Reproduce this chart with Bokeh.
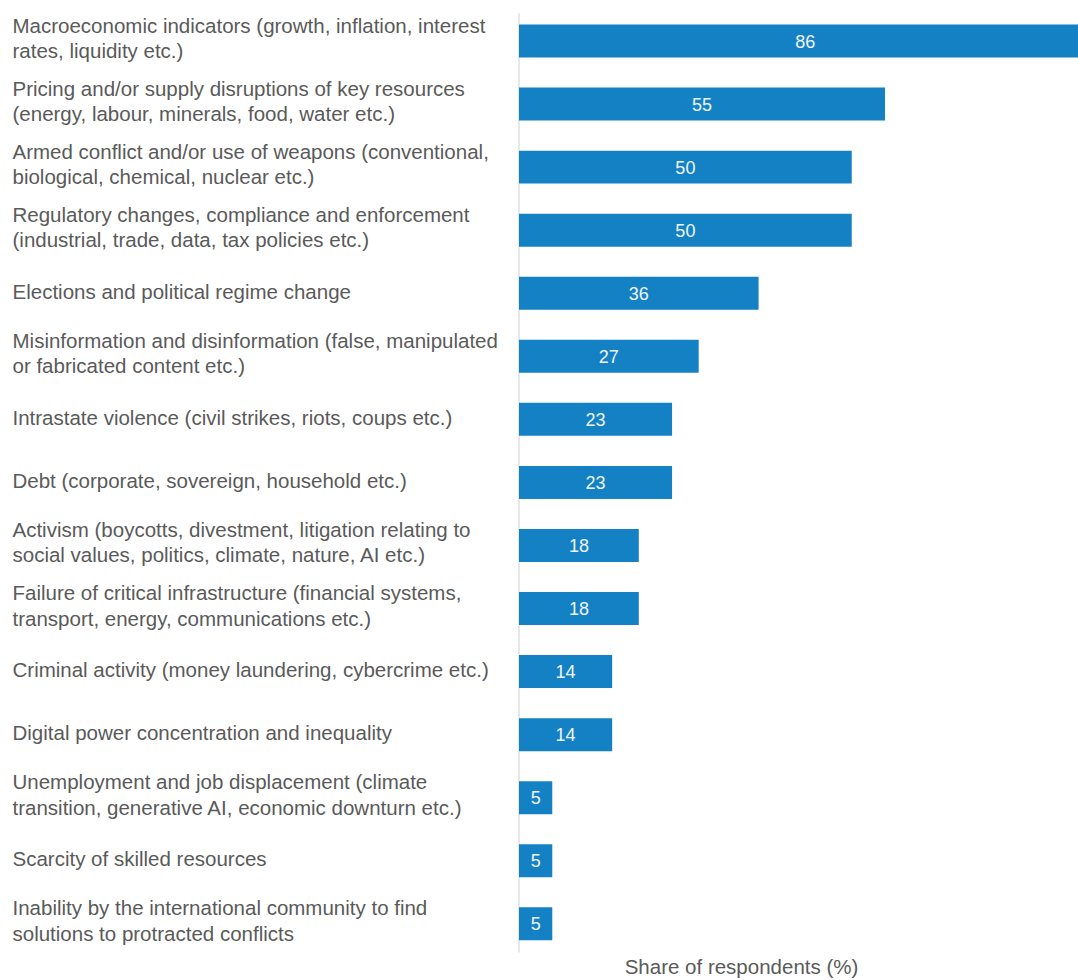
from bokeh.plotting import figure
from bokeh.models import Range1d, ColumnDataSource
from bokeh.core.properties import value
from bokeh.embed import file_html
from bokeh.resources import INLINE

# ---------------- data ----------------
label_line1 = [
    "Macroeconomic indicators (growth, inflation, interest",
    "Pricing and/or supply disruptions of key resources",
    "Armed conflict and/or use of weapons (conventional,",
    "Regulatory changes, compliance and enforcement",
    "Elections and political regime change",
    "Misinformation and disinformation (false, manipulated",
    "Intrastate violence (civil strikes, riots, coups etc.)",
    "Debt (corporate, sovereign, household etc.)",
    "Activism (boycotts, divestment, litigation relating to",
    "Failure of critical infrastructure (financial systems,",
    "Criminal activity (money laundering, cybercrime etc.)",
    "Digital power concentration and inequality",
    "Unemployment and job displacement (climate",
    "Scarcity of skilled resources",
    "Inability by the international community to find",
]
label_line2 = [
    "rates, liquidity etc.)",
    "(energy, labour, minerals, food, water etc.)",
    "biological, chemical, nuclear etc.)",
    "(industrial, trade, data, tax policies etc.)",
    "",
    "or fabricated content etc.)",
    "",
    "",
    "social values, politics, climate, nature, AI etc.)",
    "transport, energy, communications etc.)",
    "",
    "",
    "transition, generative AI, economic downturn etc.)",
    "",
    "solutions to protracted conflicts",
]
values = [86, 55, 50, 50, 36, 27, 23, 23, 18, 18, 14, 14, 5, 5, 5]
axis_title = "Share of respondents (%)"

# ---------------- layout constants ----------------
FIG_W, FIG_H = 1078, 980
PX_X = 6.655                 # px per value unit
ZERO_PX = 518.5              # px of value 0 from left
PX_Y = 63.06                 # px per row
ROW0_PX = 40.5               # px of first row centre from top
X_START = -ZERO_PX / PX_X
X_END = X_START + FIG_W / PX_X
Y_TOP = -ROW0_PX / PX_Y
Y_BOT = Y_TOP + FIG_H / PX_Y

def xd(px):
    return (px - ZERO_PX) / PX_X

def yd(px):
    return (px - ROW0_PX) / PX_Y

BAR_COLOR = "#1481c4"
TEXT_COLOR = "#5a5a5a"
FONT = "Liberation Sans"

idx = list(range(len(values)))

p = figure(
    width=FIG_W, height=FIG_H,
    x_range=Range1d(X_START, X_END),
    y_range=Range1d(Y_BOT, Y_TOP),
    output_backend="svg", toolbar_location=None,
    min_border_left=0, min_border_right=0,
    min_border_top=0, min_border_bottom=0,
)
p.axis.visible = False
p.grid.visible = False
p.outline_line_color = None
p.background_fill_color = "white"
p.border_fill_color = "white"

# vertical axis line at 0
p.segment(x0=[0], y0=[yd(13)], x1=[0], y1=[yd(952)], line_color="#d0d0d0", line_width=1)

# bars
bar_src = ColumnDataSource(dict(
    y=idx, v=values, mid=[v / 2 for v in values], t=[str(v) for v in values]
))
p.hbar(y="y", left=0, right="v", height=0.523, source=bar_src,
       fill_color=BAR_COLOR, line_color=None)
p.text(x="mid", y="y", text="t", source=bar_src,
       text_align="center", text_baseline="middle",
       text_color="#eef5fb", text_font_size="18px", text_font=value(FONT))

# category labels (left aligned)
ly, lt, lo = [], [], []
for i, (a, b) in enumerate(zip(label_line1, label_line2)):
    if b:
        ly += [i, i]
        lt += [a, b]
        lo += [-16, 9.5]
    else:
        ly.append(i)
        lt.append(a)
        lo.append(-2)
lab_src = ColumnDataSource(dict(y=ly, t=lt, o=lo, x=[xd(12)] * len(ly)))
p.text(x="x", y="y", text="t", y_offset="o", source=lab_src,
       text_align="left", text_baseline="middle",
       text_color=TEXT_COLOR, text_font_size="20.5px", text_font=value(FONT))

# axis title
p.text(x=[xd(741)], y=[yd(966)], text=[axis_title],
       text_align="center", text_baseline="middle",
       text_color=TEXT_COLOR, text_font_size="20.5px", text_font=value(FONT))

open("out.html", "w").write(file_html(p, INLINE))
